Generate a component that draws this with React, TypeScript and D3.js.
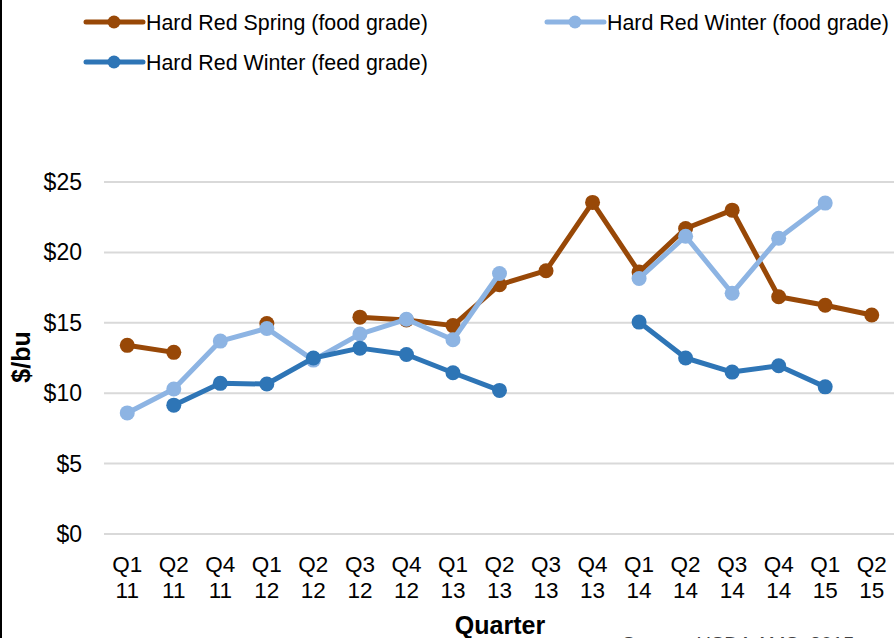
import React from "react";
import * as d3 from "d3";

const quarters = ["Q1", "Q2", "Q4", "Q1", "Q2", "Q3", "Q4", "Q1", "Q2", "Q3", "Q4", "Q1", "Q2", "Q3", "Q4", "Q1", "Q2"];
const years = ["11", "11", "11", "12", "12", "12", "12", "13", "13", "13", "13", "14", "14", "14", "14", "15", "15"];
const categories = quarters.map((q, i) => `${q} ${years[i]}`);

const springFood = [13.4, 12.9, null, 14.95, null, 15.4, 15.2, 14.8, 17.7, 18.7, 23.55, 18.6, 21.7, 23.0, 16.85, 16.25, 15.55];
const winterFood = [8.6, 10.3, 13.7, 14.6, 12.35, 14.2, 15.25, 13.8, 18.5, null, null, 18.15, 21.15, 17.1, 21.0, 23.5, null];
const winterFeed = [null, 9.15, 10.7, 10.65, 12.5, 13.2, 12.75, 11.45, 10.2, null, null, 15.05, 12.5, 11.5, 11.95, 10.45, null];

const yTicks = [0, 5, 10, 15, 20, 25];

const series = [
  { name: "Hard Red Spring (food grade)", values: springFood, color: "#984807" },
  { name: "Hard Red Winter (food grade)", values: winterFood, color: "#8db4e3" },
  { name: "Hard Red Winter (feed grade)", values: winterFeed, color: "#2e75b6" },
];

const width = 894;
const height = 638;
const font = "Liberation Sans, Arial, sans-serif";

export default function App() {
  const x = d3.scalePoint<string>().domain(categories).range([104, 895]).padding(0.5);
  const y = d3.scaleLinear().domain([0, 25]).range([534, 182]);

  const line = d3
    .line<number | null>()
    .defined((d) => d != null)
    .x((d, i) => x(categories[i]) as number)
    .y((d) => y(d as number));

  const legendPos = [
    { lx: 86, ly: 22 },
    { lx: 547, ly: 22 },
    { lx: 86, ly: 62 },
  ];

  return (
    <div style={{ position: "fixed", left: 0, top: 0 }}>
      <svg width={width} height={height} style={{ display: "block", background: "#fff" }}>
        <line x1={1} x2={1} y1={0} y2={height} stroke="#000" strokeWidth={2} />

        {yTicks.map((t) => (
          <g key={t}>
            <line x1={104} x2={width} y1={y(t)} y2={y(t)} stroke="#d9d9d9" strokeWidth={2} />
            <text x={82} y={y(t)} dy="0.35em" textAnchor="end" fontFamily={font} fontSize={23} fill="#000">
              ${t}
            </text>
          </g>
        ))}

        {categories.map((c, i) => (
          <text key={c + i} x={x(c)} textAnchor="middle" fontFamily={font} fontSize={22.5} fill="#000">
            <tspan x={x(c)} y={572}>{quarters[i]}</tspan>
            <tspan x={x(c)} y={598}>{years[i]}</tspan>
          </text>
        ))}

        <text
          transform="translate(30,357) rotate(-90)"
          textAnchor="middle"
          fontFamily={font}
          fontSize={25}
          fontWeight="bold"
        >
          $/bu
        </text>
        <text x={500} y={634} textAnchor="middle" fontFamily={font} fontSize={25} fontWeight="bold">
          Quarter
        </text>
        <text x={622} y={651} fontFamily={font} fontSize={20} fill="#404040">
          Source: USDA AMS, 2015
        </text>

        {series.map((s) => (
          <g key={s.name}>
            <path d={line(s.values) || ""} fill="none" stroke={s.color} strokeWidth={5} strokeLinejoin="round" />
            {s.values.map((v, i) =>
              v == null ? null : (
                <circle key={i} cx={x(categories[i])} cy={y(v)} r={7.5} fill={s.color} />
              )
            )}
          </g>
        ))}

        {series.map((s, i) => {
          const { lx, ly } = legendPos[i];
          return (
            <g key={s.name} transform={`translate(${lx},${ly})`}>
              <line x1={0} x2={57} y1={0} y2={0} stroke={s.color} strokeWidth={5} strokeLinecap="round" />
              <circle cx={28} cy={0} r={6.5} fill={s.color} />
              <text x={60} y={0} dy="0.36em" fontFamily={font} fontSize={21.4} fill="#000">
                {s.name}
              </text>
            </g>
          );
        })}
      </svg>
    </div>
  );
}
